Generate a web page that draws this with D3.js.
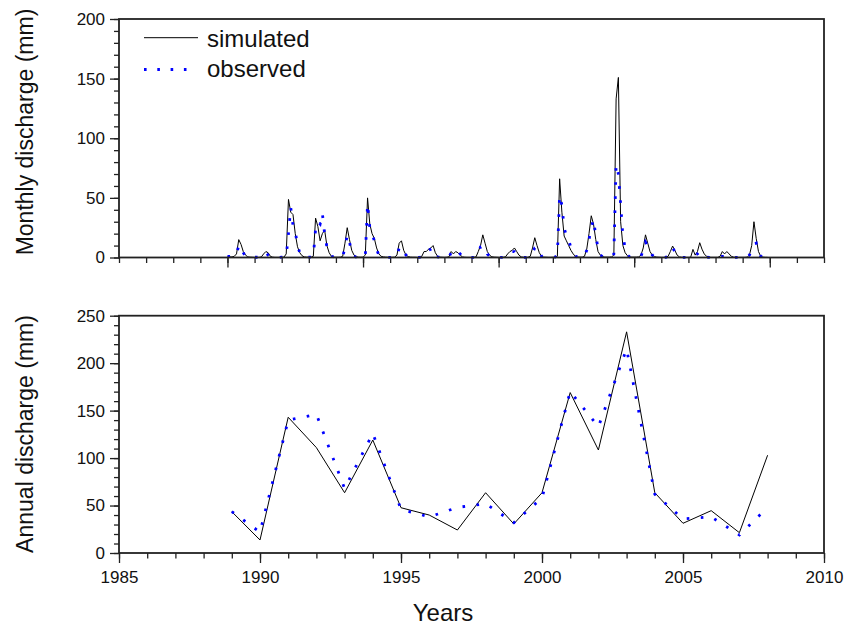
<!DOCTYPE html>
<html>
<head>
<meta charset="utf-8">
<script src="https://cdn.jsdelivr.net/npm/d3@7"></script>
<style>
  html, body { margin: 0; padding: 0; background: #fff; }
  svg { display: block; font-family: "Liberation Sans", Arial, sans-serif; }
</style>
</head>
<body>
<svg id="chart" width="848" height="633"></svg>
<script>
// ---------------- DATA ----------------
// Monthly discharge (mm), Jan 1989 .. Dec 2008, one row per year (12 months)
const monthlySim = [
  0.5,0.5,0.5,1,3,15,11,5,2,0.5,0.3,0.2,        // 1989
  0.1,0.1,0.1,0.5,3,5,4,1,0.3,0.1,0.1,0.1,      // 1990
  0.3,0.3,3,48.7,38,36,20,9,4,1.5,0.5,0.3,      // 1991
  0.3,0.3,1,33,26,14,20,23,10,4,1,0.3,          // 1992
  0.2,0.2,0.3,1,12,25,15,6,2,0.7,0.3,0.2,       // 1993
  0.3,2,50,28,20,16,8,3,1,0.5,0.3,0.2,          // 1994
  0.2,0.2,0.3,2,12,14,6,2,0.8,0.3,0.2,0.2,      // 1995
  0.1,0.2,1,5,5,7,8,10,4,1,0.3,0.2,             // 1996
  0.1,0.2,0.5,5,3,5,4,2,0.5,0.2,0.1,0.1,        // 1997
  0.1,0.2,0.5,5,10,19,12,5,2,0.6,0.3,0.2,       // 1998
  0.1,0.1,0.2,0.5,3,5,6,8,5,2,0.5,0.2,          // 1999
  0.1,0.2,1,8,16.6,10,4,1,0.3,0.2,0.1,0.1,      // 2000
  0.2,0.3,1,66,38,18,14,10,6,3,1,0.4,           // 2001
  0.3,0.3,1,7,20,35,28,15,5,2,0.7,0.3,          // 2002
  0.3,0.3,0.5,2,133,151,30,10,4,1.5,0.5,0.3,    // 2003
  0.3,0.3,0.5,2,8,19,12,5,2,0.7,0.3,0.2,        // 2004
  0.1,0.1,0.2,1,5,9.6,6,2,0.5,0.2,0.1,0.1,      // 2005
  0.1,0.2,6.8,2,5,12.4,7,3,1,0.3,0.1,0.1,       // 2006
  0.1,0.1,1,5,3,5,3,1,0.3,0.1,0.1,0.1,          // 2007
  0.1,0.1,0.3,2,10,30,16,5,1,0.3,0.1,0.1        // 2008
];
const monthlyObs = [
  1,1,1,1,3,10,10,4,1,0.3,0.2,0.1,              // 1989
  0.2,0.2,0.2,1,3.5,4,2,0.5,0.2,0.1,0.1,0.1,    // 1990
  0.3,0.3,1,20,42,27,22,10,4,1,0.5,0.3,         // 1991
  0.3,0.3,1,24,30,28,37,20,9,3,1,0.5,           // 1992
  0.2,0.2,0.3,1,8,19,13,4,1,0.3,0.2,0.1,        // 1993
  0.3,1,45,25,20,14,7,2,1,0.3,0.2,0.2,          // 1994
  0.1,0.1,0.2,1,8,9,6,2,0.5,0.2,0.1,0.1,        // 1995
  0.1,0.1,0.5,4,5,6,7,8,2,0.5,0.2,0.1,          // 1996
  0.1,0.1,0.3,4,5,7,5,3,0.5,0.2,0.1,0.1,        // 1997
  0.1,0.1,0.3,3,9,10,8,3,1,0.3,0.1,0.1,         // 1998
  0.1,0.1,0.2,1,3,4,5,5,2,0.5,0.2,0.1,          // 1999
  0.1,0.1,0.5,4,8,9,5,1,0.3,0.1,0.1,0.1,        // 2000
  0.2,0.3,2,52,44,25,18,15,8,3,1,0.4,           // 2001
  0.3,0.3,1,6,15,25,32,18,8,2,0.7,0.3,          // 2002
  0.3,0.3,0.5,3,78,70,45,18,8,2,0.5,0.3,        // 2003
  0.2,0.2,0.3,1,6,13,10,6,2,0.5,0.2,0.1,        // 2004
  0.1,0.1,0.2,1,5,8,5,1.5,0.3,0.1,0.1,0.1,      // 2005
  0.1,0.1,1,2,3,5,4,2,0.5,0.1,0.1,0.1,          // 2006
  0.1,0.1,0.5,1,1,1.5,1,0.5,0.2,0.1,0.1,0.1,    // 2007
  0.1,0.1,0.3,2,6,11,12,4,1,0.3,0.1,0.1         // 2008
];
// Annual discharge (mm)
const years = [1989,1990,1991,1992,1993,1994,1995,1996,1997,1998,1999,2000,2001,2002,2003,2004,2005,2006,2007,2008];
const annualSim = [43.5,13.7,143,111,63.5,119,47.7,40,24.2,63.5,30.6,63.5,169,108.5,233,63.5,31.3,44.6,21.4,103];
const annualObs = [43.5,22,140,146,68,126,46,38,48,52,32,58,170,133,215,62,36,38,19,48];

const monthTicks = d3.range(-48, 265, 12);      // top panel x ticks (months from Jan 1989)
const monthMajor = [0, 60, 120, 180, 240];
const yearTickLabels = [1985, 1990, 1995, 2000, 2005, 2010];
const yearMinor = d3.range(1985, 2011, 1);
const topYTicks = [0, 50, 100, 150, 200];
const botYTicks = [0, 50, 100, 150, 200, 250];
const seriesNames = ["simulated", "observed"];

// ---------------- LAYOUT ----------------
const svg = d3.select("#chart");
const L = 119, R = 824;
const top1 = 19, bot1 = 257.5;
const top2 = 315.7, bot2 = 553;
const frameColor = "#222";

const xMonth = d3.scaleLinear().domain([-48, 264]).range([L, R]);
const xYear = d3.scaleLinear().domain([1985, 2010]).range([L, R]);
const yTop = d3.scaleLinear().domain([0, 200]).range([bot1, top1]);
const yBot = d3.scaleLinear().domain([0, 250]).range([bot2, top2]);

function styleAxis(g) {
  g.select(".domain").remove();
  g.selectAll(".tick line").attr("stroke", frameColor).attr("stroke-width", 1.3);
  g.selectAll(".tick text").attr("fill", "#111").style("font-size", "17px")
    .style("font-family", "'Liberation Sans', Arial, sans-serif");
}

function drawFrame(t, b) {
  svg.append("rect").attr("x", L).attr("y", t).attr("width", R - L).attr("height", b - t)
    .attr("fill", "none").attr("stroke", frameColor).attr("stroke-width", 1.8);
}

// ---- Top panel axes ----
svg.append("g").attr("transform", `translate(0,${bot1})`)
  .call(d3.axisBottom(xMonth).tickValues(monthTicks).tickSize(5.5).tickFormat(""))
  .call(styleAxis);
svg.append("g").attr("transform", `translate(0,${bot1})`)
  .call(d3.axisBottom(xMonth).tickValues(monthMajor).tickSize(10).tickFormat(""))
  .call(styleAxis);
svg.append("g").attr("transform", `translate(${L},0)`)
  .call(d3.axisLeft(yTop).tickValues(d3.range(0, 201, 10)).tickSize(5).tickFormat(""))
  .call(styleAxis);
svg.append("g").attr("transform", `translate(${L},0)`)
  .call(d3.axisLeft(yTop).tickValues(topYTicks).tickSize(9).tickPadding(5).tickFormat(d3.format("d")))
  .call(styleAxis);

// ---- Bottom panel axes ----
svg.append("g").attr("transform", `translate(0,${bot2})`)
  .call(d3.axisBottom(xYear).tickValues(yearMinor).tickSize(5.5).tickFormat(""))
  .call(styleAxis);
svg.append("g").attr("transform", `translate(0,${bot2})`)
  .call(d3.axisBottom(xYear).tickValues(yearTickLabels).tickSize(10).tickPadding(8).tickFormat(d3.format("d")))
  .call(styleAxis);
svg.append("g").attr("transform", `translate(${L},0)`)
  .call(d3.axisLeft(yBot).tickValues(d3.range(0, 251, 10)).tickSize(5).tickFormat(""))
  .call(styleAxis);
svg.append("g").attr("transform", `translate(${L},0)`)
  .call(d3.axisLeft(yBot).tickValues(botYTicks).tickSize(9).tickPadding(5).tickFormat(d3.format("d")))
  .call(styleAxis);

// ---- Lines ----
const simStyle = s => s.attr("fill", "none").attr("stroke", "#000").attr("stroke-width", 1);
const obsStyle = s => s.attr("fill", "none").attr("stroke", "#0000ff").attr("stroke-width", 2.8)
  .attr("stroke-dasharray", "2.6,11.5");

const lineTop = d3.line().x((d, i) => xMonth(i)).y(d => yTop(d));
const lineBot = d3.line().x((d, i) => xYear(years[i])).y(d => yBot(d));

svg.append("path").datum(monthlySim).attr("d", lineTop).call(simStyle);
svg.append("path").datum(monthlyObs).attr("d", lineTop).call(obsStyle);
svg.append("path").datum(annualSim).attr("d", lineBot).call(simStyle);
svg.append("path").datum(annualObs).attr("d", lineBot).call(obsStyle);

drawFrame(top1, bot1);
drawFrame(top2, bot2);

// ---- Legend ----
const leg = svg.append("g");
leg.append("line").attr("x1", 144).attr("x2", 198).attr("y1", 37.7).attr("y2", 37.7).call(simStyle);
leg.append("line").attr("x1", 144).attr("x2", 190).attr("y1", 69.5).attr("y2", 69.5)
  .call(obsStyle).attr("stroke-dasharray", "2.6,10.7");
leg.append("text").attr("x", 207).attr("y", 46.5).text(seriesNames[0])
  .style("font-size", "24px").attr("fill", "#111");
leg.append("text").attr("x", 207).attr("y", 76.5).text(seriesNames[1])
  .style("font-size", "24px").attr("fill", "#111");

// ---- Axis titles ----
svg.append("text").attr("transform", `translate(33,132) rotate(-90)`).attr("text-anchor", "middle")
  .style("font-size", "23px").attr("fill", "#111").text("Monthly discharge (mm)");
svg.append("text").attr("transform", `translate(33,434) rotate(-90)`).attr("text-anchor", "middle")
  .style("font-size", "23px").attr("fill", "#111").text("Annual discharge (mm)");
svg.append("text").attr("x", 443).attr("y", 621).attr("text-anchor", "middle")
  .style("font-size", "24px").attr("fill", "#111").text("Years");
</script>
</body>
</html>
